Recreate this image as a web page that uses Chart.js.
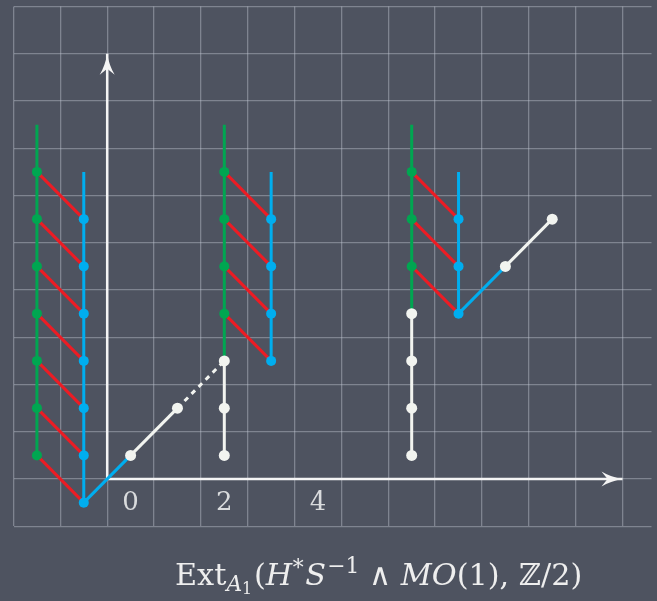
<!DOCTYPE html>
<html>
<head>
<meta charset="utf-8">
<script src="https://cdn.jsdelivr.net/npm/chart.js@4.4.1/dist/chart.umd.min.js"></script>
<style>
  html, body { margin: 0; padding: 0; background: #4e5360; }
  canvas { display: block; }
</style>
</head>
<body>
<canvas id="ext" width="657" height="601"></canvas>
<script>
// dots as [stem, filtration]
const greenDots = [[-2,0],[-2,1],[-2,2],[-2,3],[-2,4],[-2,5],[-2,6],[2,3],[2,4],[2,5],[2,6],[6,4],[6,5],[6,6]];
const blueDots = [[-1,-1],[-1,0],[-1,1],[-1,2],[-1,3],[-1,4],[-1,5],[3,2],[3,3],[3,4],[3,5],[7,3],[7,4],[7,5]];
const whiteDots = [[0,0],[1,1],[2,0],[2,1],[2,2],[6,0],[6,1],[6,2],[6,3],[8,4],[9,5]];

// line segments as [from, to]
const greenLines = [[[-2,0],[-2,7]], [[2,2],[2,7]], [[6,3],[6,7]]];
const blueLines = [[[-1,-1],[-1,6]], [[3,2],[3,6]], [[7,3],[7,6]], [[-1,-1],[0,0]], [[7,3],[8,4]]];
const redLines = [
  [[-2,0],[-1,-1]], [[-2,1],[-1,0]], [[-2,2],[-1,1]], [[-2,3],[-1,2]], [[-2,4],[-1,3]], [[-2,5],[-1,4]], [[-2,6],[-1,5]],
  [[2,3],[3,2]], [[2,4],[3,3]], [[2,5],[3,4]], [[2,6],[3,5]],
  [[6,4],[7,3]], [[6,5],[7,4]], [[6,6],[7,5]]
];
const whiteLines = [[[0,0],[1,1]], [[8,4],[9,5]], [[2,0],[2,2]], [[6,0],[6,3]]];
const dashedLines = [[[1,1],[2,2]]];
const axisLines = [[[-0.5,-0.5],[-0.5,8.5]], [[-0.5,-0.5],[10.5,-0.5]]];

const stemLabels = [0, 2, 4];
const stemLabelRow = -1;
const xGrid = [-2.5,-1.5,-0.5,0.5,1.5,2.5,3.5,4.5,5.5,6.5,7.5,8.5,9.5,10.5];
const yGrid = [-1.5,-0.5,0.5,1.5,2.5,3.5,4.5,5.5,6.5,7.5,8.5,9.5];

const GREEN = '#00a651', BLUE = '#00aeef', RED = '#ec1c24', WHITE = '#f2f4f0';
const SERIF = '"DejaVu Serif", serif';

function pts(list) { return list.map(p => ({ x: p[0], y: p[1] })); }

let datasets = [];
function addLines(list, color, extra) {
  list.forEach(seg => {
    datasets.push(Object.assign({
      data: pts(seg), showLine: true, borderColor: color, borderWidth: 3,
      pointRadius: 0, pointHoverRadius: 0, fill: false, order: 5
    }, extra || {}));
  });
}
addLines(axisLines, '#f4f4f4', { borderWidth: 2.5, order: 9 });
addLines(redLines, RED);
addLines(greenLines, GREEN);
addLines(blueLines, BLUE);
addLines(whiteLines, WHITE);
addLines(dashedLines, WHITE, { borderDash: [5, 5] });

function addDots(list, color, r) {
  datasets.push({
    data: pts(list), showLine: false, backgroundColor: color, borderWidth: 0,
    pointRadius: r, pointHoverRadius: r, order: 1
  });
}
addDots(greenDots, GREEN, 5);
addDots(blueDots, BLUE, 5);
addDots(whiteDots, WHITE, 5.5);

// arrow heads on the axes + stem labels + title
const extras = {
  id: 'extras',
  afterDatasetsDraw(chart) {
    const ctx = chart.ctx, xs = chart.scales.x, ys = chart.scales.y;
    ctx.save();
    axisLines.forEach(seg => {
      const x0 = xs.getPixelForValue(seg[0][0]), y0 = ys.getPixelForValue(seg[0][1]);
      const x1 = xs.getPixelForValue(seg[1][0]), y1 = ys.getPixelForValue(seg[1][1]);
      const a = Math.atan2(y1 - y0, x1 - x0);
      ctx.translate(x1, y1);
      ctx.rotate(a);
      ctx.fillStyle = '#f4f4f4';
      ctx.beginPath();
      ctx.moveTo(0, 0);
      ctx.quadraticCurveTo(-12, 2, -21, 7.5);
      ctx.lineTo(-15, 0);
      ctx.lineTo(-21, -7.5);
      ctx.quadraticCurveTo(-12, -2, 0, 0);
      ctx.fill();
      ctx.setTransform(1, 0, 0, 1, 0, 0);
    });
    ctx.fillStyle = '#d9dbdd';
    ctx.font = '26px ' + SERIF;
    ctx.textAlign = 'center';
    ctx.textBaseline = 'middle';
    stemLabels.forEach(s => {
      ctx.fillText(String(s), xs.getPixelForValue(s), ys.getPixelForValue(stemLabelRow) + 1);
    });
    const parts = [
      { t: 'Ext', it: false, s: 1, dy: 0 },
      { t: 'A', it: true, s: 0.72, dy: 0.2 },
      { t: '1', it: false, s: 0.52, dy: 0.3, gap: 0.06 },
      { t: '(', it: false, s: 1, dy: 0 },
      { t: 'H', it: true, s: 1, dy: 0, gap: 0.02 },
      { t: '*', it: false, s: 0.72, dy: -0.32, gap: 0.05 },
      { t: 'S', it: true, s: 1, dy: 0, gap: 0.04 },
      { t: '\u22121', it: false, s: 0.72, dy: -0.38 },
      { t: ' \u2227 ', it: false, s: 1, dy: 0 },
      { t: 'MO', it: true, s: 1, dy: 0 },
      { t: '(1), ', it: false, s: 1, dy: 0 },
      { t: '\u2124', it: false, s: 1, dy: 0 },
      { t: '/2)', it: false, s: 1, dy: 0 }
    ];
    const fontOf = (p, size) => (p.it ? 'italic ' : '') + Math.round(size * p.s * 10) / 10 + 'px ' + SERIF;
    let size = 28;
    const measure = sz => parts.reduce((w, p) => { ctx.font = fontOf(p, sz); return w + ctx.measureText(p.t).width + (p.gap || 0) * sz; }, 0);
    size = size * 408 / measure(size);
    let x = 175;
    const base = 585;
    ctx.fillStyle = '#eeeeee';
    ctx.textAlign = 'left';
    ctx.textBaseline = 'alphabetic';
    parts.forEach(p => {
      ctx.font = fontOf(p, size);
      ctx.fillText(p.t, x, base + p.dy * size);
      x += ctx.measureText(p.t).width + (p.gap || 0) * size;
    });
    ctx.restore();
  }
};

const gridOpts = { color: 'rgba(195,200,212,0.42)', lineWidth: 1.3, drawTicks: false };

new Chart(document.getElementById('ext'), {
  type: 'scatter',
  data: { datasets: datasets },
  options: {
    responsive: false,
    animation: false,
    devicePixelRatio: 1,
    layout: { padding: { left: 13.5, top: 6.5, right: 0, bottom: 74.75 } },
    plugins: { legend: { display: false }, tooltip: { enabled: false } },
    events: [],
    scales: {
      x: {
        type: 'linear', min: -2.5, max: -2.5 + (657 - 13.5) / 47.25,
        grid: gridOpts, border: { display: false },
        ticks: { display: false },
        afterBuildTicks: s => { s.ticks = xGrid.map(v => ({ value: v })); }
      },
      y: {
        type: 'linear', min: -1.5, max: 9.5,
        grid: gridOpts, border: { display: false },
        ticks: { display: false },
        afterBuildTicks: s => { s.ticks = yGrid.map(v => ({ value: v })); }
      }
    }
  },
  plugins: [extras]
});
</script>
</body>
</html>
